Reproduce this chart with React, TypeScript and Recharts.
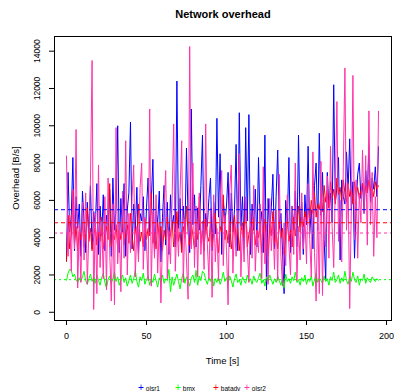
import React from "react"
import { LineChart, Line, XAxis, YAxis, ReferenceLine } from "recharts"

// sampling times [s]
const seconds = [
  0, 1, 2, 3, 4, 5, 6, 7, 8, 9, 10, 11, 12, 13, 14, 15, 16, 17, 18, 19,
  20, 21, 22, 23, 24, 25, 26, 27, 28, 29, 30, 31, 32, 33, 34, 35, 36, 37, 38, 39,
  40, 41, 42, 43, 44, 45, 46, 47, 48, 49, 50, 51, 52, 53, 54, 55, 56, 57, 58, 59,
  60, 61, 62, 63, 64, 65, 66, 67, 68, 69, 70, 71, 72, 73, 74, 75, 76, 77, 78, 79,
  80, 81, 82, 83, 84, 85, 86, 87, 88, 89, 90, 91, 92, 93, 94, 95, 96, 97, 98, 99,
  100, 101, 102, 103, 104, 105, 106, 107, 108, 109, 110, 111, 112, 113, 114, 115, 116, 117, 118, 119,
  120, 121, 122, 123, 124, 125, 126, 127, 128, 129, 130, 131, 132, 133, 134, 135, 136, 137, 138, 139,
  140, 141, 142, 143, 144, 145, 146, 147, 148, 149, 150, 151, 152, 153, 154, 155, 156, 157, 158, 159,
  160, 161, 162, 163, 164, 165, 166, 167, 168, 169, 170, 171, 172, 173, 174, 175, 176, 177, 178, 179,
  180, 181, 182, 183, 184, 185, 186, 187, 188, 189, 190, 191, 192, 193, 194, 195,
]

// overhead [B/s]
const olsr1 = [
  2800, 7500, 4300, 5200, 8300, 3300, 6200, 4500, 5800, 3000,
  6500, 4800, 3200, 5900, 4200, 6800, 3400, 5400, 4600, 6900,
  3100, 5700, 4100, 6300, 3300, 5200, 4700, 6600, 3000, 7200,
  4400, 5600, 10000, 3200, 6100, 4300, 6900, 3000, 5500, 6400,
  10200, 3400, 5800, 4400, 6700, 3100, 5300, 4900, 6200, 3300,
  5600, 7200, 4300, 6000, 8200, 3200, 5400, 4800, 6500, 2700,
  5100, 6800, 3600, 5900, 3100, 6300, 4600, 5200, 3500, 12400,
  4500, 6100, 3300, 5700, 4200, 8800, 5000, 3200, 10900, 4700,
  6300, 3500, 5600, 4400, 6800, 9500, 3300, 5300, 4600, 6100,
  7200, 3300, 5900, 4200, 10400, 5100, 8500, 3100, 6000, 4800,
  5700, 7500, 3500, 6400, 4300, 5500, 9000, 3300, 10700, 4600,
  6200, 3400, 9900, 4900, 10600, 3100, 5800, 4400, 6600, 3500,
  8300, 4700, 5400, 3200, 9500, 1200, 6100, 4300, 5600, 7400,
  3400, 6200, 8700, 4500, 5300, 3300, 1000, 6000, 4800, 8300,
  3200, 5700, 4400, 6500, 3500, 9500, 4600, 5900, 3100, 6300,
  4700, 8900, 4200, 5500, 3400, 6800, 8000, 4400, 9600, 5200,
  7500, 3900, 1700, 7500, 5600, 6400, 4800, 12200, 5900, 6700,
  8300, 2800, 7100, 6200, 5800, 8600, 6600, 9300, 5500, 7000,
  2900, 5700, 7400, 8000, 6100, 6900, 5300, 7600, 6400, 8900,
  5900, 7200, 6600, 7800, 6200, 8900,
]

const bmx = [
  1700, 2100, 2300, 2250, 1900, 2050, 1750, 1600, 1850, 1650,
  1900, 2200, 1700, 1500, 1800, 2050, 1650, 1900, 1550, 2000,
  1700, 1450, 1850, 2100, 1600, 1300, 1750, 1950, 1550, 1800,
  2150, 1650, 1900, 1450, 1750, 2000, 1600, 1850, 1400, 1700,
  2000, 1550, 1800, 2250, 1650, 1350, 1900, 1700, 2100, 1500,
  1750, 1950, 1450, 1800, 1600, 2050, 1700, 1350, 1850, 1650,
  2000, 1550, 1800, 1700, 2300, 1100, 1900, 1450, 1750, 2050,
  1650, 1250, 1800, 2100, 1550, 1900, 1700, 1400, 1850, 2000,
  1600, 2250, 1450, 1950, 1700, 2200, 2100, 1750, 1500, 1850,
  1650, 2000, 1400, 1800, 1600, 1900, 1500, 1750, 2150, 1650,
  1850, 1550, 1950, 1700, 1350, 1800, 2050, 1600, 1750, 1450,
  1900, 1700, 1550, 2000, 1650, 1800, 1500, 1950, 1700, 1600,
  1850, 2100, 1550, 1750, 1400, 1900, 1650, 2000, 1750, 1500,
  1800, 1600, 1950, 1700, 1450, 1850, 1300, 2050, 1650, 1800,
  1550, 1900, 1700, 2150, 1600, 1750, 1450, 1850, 1650, 2000,
  1500, 1800, 1650, 1950, 1400, 1750, 2100, 1600, 1850, 1700,
  1550, 1950, 1650, 1800, 1450, 1900, 1700, 2150, 1600, 1750,
  2000, 1550, 1850, 1650, 2200, 1700, 1500, 1900, 1650, 2150,
  1750, 1600, 1950, 1450, 1800, 1700, 2050, 1550, 1850, 1700,
  1600, 1900, 1750, 1650, 1800, 1700,
]

const batadv = [
  2700, 5200, 3400, 4100, 6500, 3700, 4600, 3300, 4400, 3900,
  4800, 3500, 4200, 5600, 3800, 4500, 3300, 4000, 4700, 3600,
  4300, 3800, 5100, 3400, 4100, 4600, 3900, 6900, 3500, 4200,
  3900, 4700, 3400, 4400, 3900, 5000, 3600, 4200, 4700, 3700,
  5300, 4000, 3300, 4500, 4000, 5800, 3800, 4300, 3500, 5000,
  3900, 4500, 4100, 6400, 3700, 4300, 3400, 4800, 4000, 4600,
  3300, 4400, 3900, 5100, 3600, 4200, 4900, 3500, 4100, 5400,
  3800, 4300, 3200, 4600, 4000, 5700, 4200, 3600, 4800, 4100,
  3400, 4500, 3900, 6200, 3700, 4400, 3300, 5000, 4100, 3800,
  4700, 3500, 4200, 5300, 4000, 3200, 4600, 4300, 6300, 3900,
  4400, 3700, 4900, 3400, 4100, 5200, 3800, 4500, 3300, 4300,
  4800, 4000, 5900, 3500, 4200, 4600, 3900, 5100, 3600, 4400,
  4000, 4700, 3200, 4300, 5000, 3800, 3000, 4500, 4100, 5400,
  3700, 4200, 3400, 4800, 4000, 4500, 3100, 4100, 4900, 3800,
  4400, 3500, 5100, 4100, 4800, 5700, 4300, 5100, 4600, 5400,
  4900, 5600, 5000, 6000, 5300, 6400, 5100, 5800, 5500, 6200,
  5400, 6800, 5900, 6500, 5600, 7000, 6100, 6600, 5800, 7200,
  6300, 6700, 6000, 7100, 6400, 5900, 6900, 6200, 6600, 5800,
  7000, 6300, 6700, 6100, 6500, 6900, 6200, 6800, 6400, 7100,
  6500, 6700, 6200, 7000, 6600, 6800,
]

const olsr2 = [
  8400, 3000, 5200, 2200, 6600, 3400, 9800, 1300, 4700, 1600,
  5900, 2800, 6400, 1500, 4300, 7100, 13500, 150, 5300, 1000,
  7900, 2400, 4900, 1800, 6200, 1200, 7200, 3300, 600, 5800,
  400, 9900, 2600, 4800, 1100, 6500, 2900, 9200, 2000, 5300,
  3200, 6200, 7900, 1900, 4600, 2700, 6700, 8000, 2300, 5100,
  3600, 1700, 10900, 1400, 5400, 2900, 6300, 2100, 4800, 500,
  3800, 5600, 7600, 1800, 4400, 2600, 6100, 10100, 2200, 4700,
  3000, 6500, 9200, 1600, 5000, 2800, 700, 14250, 3400, 8000,
  2400, 5700, 1900, 6400, 3100, 4900, 2300, 10100, 3700, 1800,
  5600, 800, 6300, 2700, 4500, 1700, 6000, 7600, 2500, 5200,
  3300, 400, 6600, 7900, 2100, 4800, 3000, 5900, 8500, 1900,
  4600, 2700, 6200, 3500, 1600, 5400, 2900, 6800, 2200, 4400,
  3200, 5800, 1800, 7800, 2600, 4700, 1500, 6100, 3300, 4900,
  2300, 5500, 1700, 7400, 3000, 1400, 4800, 2500, 6300, 3600,
  2000, 5700, 3100, 8000, 1700, 4600, 2800, 6400, 3400, 5100,
  2600, 6900, 3900, 1900, 8600, 3200, 600, 5600, 1000, 8100,
  900, 6200, 3500, 7300, 2900, 8900, 4600, 2400, 6700, 11300,
  3800, 6000, 2700, 7800, 13100, 4400, 6900, 200, 5600, 12700,
  3900, 7100, 2900, 6400, 4800, 8700, 5300, 8400, 3600, 10800,
  4700, 7500, 3000, 6200, 4000, 10800,
]

const seriesNames = ["olsr1", "bmx", "batadv", "olsr2"]
const seriesValues = [olsr1, bmx, batadv, olsr2]
// mean overhead lines
const seriesMeans = [5500, 1750, 4800, 4250]

const xTicks = [0, 50, 100, 150, 200]
const yTicks = [0, 2000, 4000, 6000, 8000, 10000, 12000, 14000]

const colors = ["#0000ff", "#00ff00", "#ff0000", "#ff33aa"]
const dashes = ["4 3", "2 3", "4 3", "3 3"]
const legendX = [138, 175, 213, 244]

const FONT = '"Liberation Sans", Arial, Helvetica, sans-serif'

const chartData = seconds.map((t, i) => {
  const row: any = { t }
  seriesNames.forEach((name, k) => {
    row[name] = seriesValues[k][i]
  })
  return row
})

// R style axis ranges: data range plus 4% on each side
const allValues = seriesValues.flat()
const yMin = Math.min(...allValues)
const yMax = Math.max(...allValues)
const yPad = (yMax - yMin) * 0.04
const xMin = Math.min(...seconds)
const xMax = Math.max(...seconds)
const xPad = (xMax - xMin) * 0.04

const YTick = (props: any) => {
  const { x, y, payload } = props
  const bx = x - 8.5
  return (
    <text x={bx} y={y} transform={`rotate(-90, ${bx}, ${y})`} textAnchor="middle" fontSize={8.5} fontFamily={FONT} fill="#000">
      {payload.value}
    </text>
  )
}

const XTitle = (props: any) => {
  const { viewBox } = props
  return (
    <text x={viewBox.x + viewBox.width / 2} y={364} textAnchor="middle" fontSize={9.5} fontFamily={FONT} fill="#000">
      Time [s]
    </text>
  )
}

const YTitle = (props: any) => {
  const { viewBox } = props
  const cy = viewBox.y + viewBox.height / 2
  return (
    <text x={18.5} y={cy} transform={`rotate(-90, 18.5, ${cy})`} textAnchor="middle" fontSize={9.5} fontFamily={FONT} fill="#000">
      Overhead [B/s]
    </text>
  )
}

export default function App() {
  return (
    <div style={{ position: "absolute", left: 0, top: 0, width: 396, height: 392, background: "#fff", fontFamily: FONT }}>
      <div style={{ position: "absolute", left: 54, top: 8, width: 338, textAlign: "center", fontWeight: "bold", fontSize: 11, lineHeight: "12px" }}>
        Network overhead
      </div>
      <LineChart width={396} height={392} data={chartData} margin={{ top: 36, right: 5, bottom: 0, left: 0 }}>
        <XAxis
          dataKey="t"
          type="number"
          domain={[xMin - xPad, xMax + xPad]}
          allowDataOverflow
          ticks={xTicks}
          interval={0}
          height={72}
          axisLine={false}
          tickLine={{ stroke: "#000" }}
          tickSize={5}
          tickMargin={8}
          tick={{ fontSize: 9, fill: "#000", fontFamily: FONT }}
          label={<XTitle />}
        />
        <YAxis
          type="number"
          domain={[yMin - yPad, yMax + yPad]}
          allowDataOverflow
          ticks={yTicks}
          interval={0}
          width={54}
          axisLine={false}
          tickLine={{ stroke: "#000" }}
          tickSize={5}
          tickMargin={0}
          tick={<YTick />}
          label={<YTitle />}
        />
        {seriesNames.map((name, k) => (
          <Line
            key={name}
            dataKey={name}
            type="linear"
            stroke={colors[k]}
            strokeWidth={1}
            dot={false}
            activeDot={false}
            isAnimationActive={false}
          />
        ))}
        {seriesNames.map((name, k) => (
          <ReferenceLine key={name + "-mean"} y={seriesMeans[k]} stroke={colors[k]} strokeDasharray={dashes[k]} strokeWidth={1} />
        ))}
      </LineChart>
      <div style={{ position: "absolute", left: 54, top: 36, width: 338, height: 285, border: "1px solid #000", boxSizing: "border-box", pointerEvents: "none" }} />
      {seriesNames.map((name, k) => (
        <div key={name} style={{ position: "absolute", left: legendX[k], top: 383, fontSize: 6.5, lineHeight: "10px", whiteSpace: "nowrap" }}>
          <span style={{ color: colors[k], fontSize: 10 }}>+</span>
          <span style={{ marginLeft: 2 }}>{name}</span>
        </div>
      ))}
    </div>
  )
}
